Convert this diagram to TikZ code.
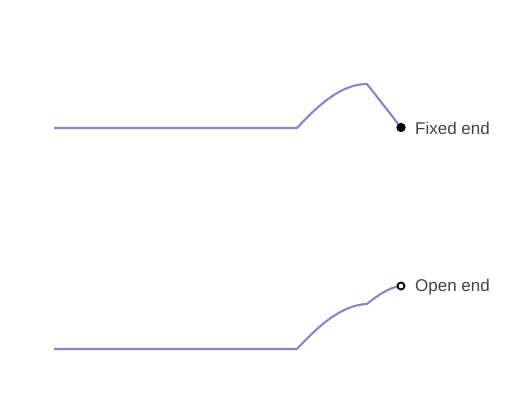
\documentclass[tikz,border=0pt]{standalone}
\usepackage{fontspec}
\setmainfont{Liberation Sans}
\definecolor{wavecol}{RGB}{145,128,200}
\definecolor{labcol}{RGB}{68,68,68}
\begin{document}
\begin{tikzpicture}[x=1pt,y=-1pt,
  wave/.style={draw=wavecol,line width=2.1pt,line join=round},
  lab/.style={anchor=west,inner sep=0pt,text=labcol,font=\fontsize{17}{20}\selectfont},
  fixeddot/.style={circle,fill=black,inner sep=0pt,minimum size=9pt},
  opendot/.style={circle,draw=black,fill=white,line width=1.8pt,inner sep=0pt,minimum size=7pt}]
\useasboundingbox (0,0) rectangle (531,409);
% top
\coordinate (a1) at (54,128);
\coordinate (b1) at (297,128);
\coordinate (c1) at (367,84);
\node[fixeddot] (d1) at (401,127.5) {};
\draw[wave] (a1) -- (b1) .. controls (321,102) and (343,84) .. (c1) -- (d1.center);
\node[fixeddot] at (d1) {};
\node[lab] (t1) at (415,128) {Fixed end};
% bottom
\coordinate (a2) at (54,349);
\coordinate (b2) at (297,349);
\coordinate (c2) at (367,304);
\coordinate (d2c) at (401,286);
\draw[wave] (a2) -- (b2) .. controls (321,323) and (343,305) .. (c2) .. controls (378,295) and (390,287) .. (d2c);
\node[opendot] (d2) at (d2c) {};
\node[lab] (t2) at (415,287) {Open end};
\end{tikzpicture}
\end{document}
